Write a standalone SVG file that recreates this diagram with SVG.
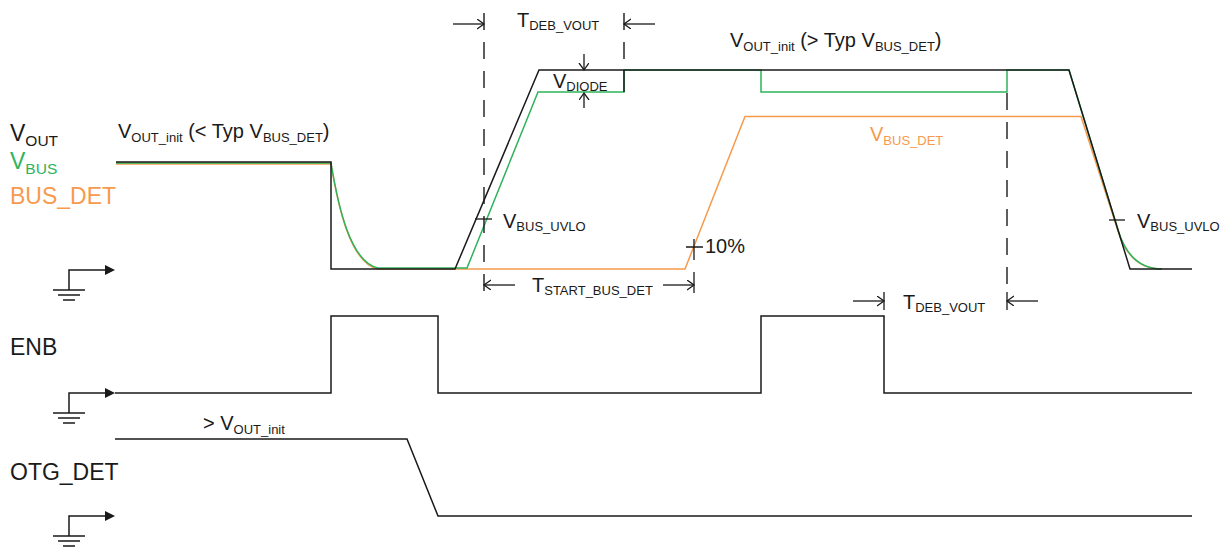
<svg xmlns="http://www.w3.org/2000/svg" width="1230" height="548" viewBox="0 0 1230 548">
<style>
text{font-family:"Liberation Sans",Arial,sans-serif;fill:#1a1a1a}
.lbl{font-size:23px}
.ls{font-size:15.5px}
.a{font-size:20px}
.s{font-size:13px}
.k{fill:none;stroke:#1a1a1a;stroke-width:1.5}
.g{fill:none;stroke:#2eb35c;stroke-width:1.5}
.o{fill:none;stroke:#f79a4c;stroke-width:1.5}
.d{fill:none;stroke:#1a1a1a;stroke-width:1.4;stroke-dasharray:17 12}
.t{fill:none;stroke:#1a1a1a;stroke-width:1.3}
.ar{fill:none;stroke:#1a1a1a;stroke-width:1.3;marker-end:url(#open)}
</style>
<defs>
<marker id="open" markerUnits="userSpaceOnUse" markerWidth="10" markerHeight="12" refX="7" refY="5" orient="auto">
<path d="M0,0 L7,5 L0,10" fill="none" stroke="#1a1a1a" stroke-width="1.3"/>
</marker>
<g id="gnd">
<path d="M0,0 V-20 H36" fill="none" stroke="#1a1a1a" stroke-width="1.5"/>
<path d="M36,-25 L46,-20 L36,-15 Z" fill="#1a1a1a"/>
<path d="M-16,0 H16 M-11,5 H11 M-6,10 H6" fill="none" stroke="#1a1a1a" stroke-width="1.5"/>
</g>
</defs>
<rect width="1230" height="548" fill="#fff"/>

<g id="labels">
<text class="lbl" x="10" y="141">V<tspan class="ls" y="146">OUT</tspan></text>
<text class="lbl" x="10" y="169" style="fill:#2eb35c">V<tspan class="ls" y="174">BUS</tspan></text>
<text class="lbl" x="10" y="204" style="fill:#f79a4c">BUS_DET</text>
<text class="lbl" x="10" y="355">ENB</text>
<text class="lbl" x="10" y="480">OTG_DET</text>
</g>

<g id="grounds">
<use href="#gnd" x="69" y="290"/>
<use href="#gnd" x="69" y="413"/>
<use href="#gnd" x="69" y="536"/>
</g>

<g id="vbus-det-wave">
<path class="o" d="M116,164 H331 C338,206 350,263 378,269 H685 L745,116.5 H1081 L1118,231 C1126,257 1140,269 1162,269"/>
</g>
<g id="vbus-wave">
<path class="g" d="M116,163 H331 C338,205 350,262 378,268 H467 L538,92 H624 V70 H761 V92 H1007 V70 H1069 L1118,230 C1126,256 1140,269 1162,269"/>
</g>
<g id="vout-wave">
<path class="k" d="M116,162 H331 V269 H455 L539,70 H1069 L1130,269 H1192"/>
<path class="k" d="M624,70 V92"/>
</g>

<g id="enb-wave">
<path class="k" d="M115,393 H331 V316 H438 V393 H761 V316 H884 V393 H1192"/>
</g>
<g id="otg-wave">
<path class="k" d="M115,439 H407 L438,516 H1192"/>
</g>

<g id="connectors">
<path class="d" d="M484,13 V297"/>
<path class="d" d="M624,13 V64"/>
<path class="d" d="M1007,93 V284"/>
<line class="ar" x1="453" y1="24" x2="484" y2="24"/>
<line class="ar" x1="655" y1="24" x2="624" y2="24"/>
<line class="ar" x1="584" y1="54" x2="584" y2="70"/>
<line class="ar" x1="584" y1="108" x2="584" y2="93"/>
<line class="ar" x1="515" y1="285" x2="484" y2="285"/>
<line class="ar" x1="663" y1="285" x2="694" y2="285"/>
<path class="t" d="M694,272 V293"/>
<path class="t" d="M686,247 H703 M694,239 V260"/>
<path class="t" d="M475,219 H492"/>
<path class="t" d="M1109,220 H1125"/>
<line class="ar" x1="853" y1="301" x2="884" y2="301"/>
<line class="ar" x1="1038" y1="301" x2="1007" y2="301"/>
<path class="t" d="M884,292 V310 M1007,292 V310"/>
</g>

<g id="annotations">
<text class="a" x="118" y="138">V<tspan class="s" y="142">OUT_init</tspan><tspan y="138"> (&lt; Typ V</tspan><tspan class="s" y="142">BUS_DET</tspan><tspan y="138">)</tspan></text>
<text class="a" x="730" y="47">V<tspan class="s" y="51">OUT_init</tspan><tspan y="47"> (&gt; Typ V</tspan><tspan class="s" y="51">BUS_DET</tspan><tspan y="47">)</tspan></text>
<text class="a" x="517" y="27">T<tspan class="s" y="30">DEB_VOUT</tspan></text>
<text class="a" x="553" y="88">V<tspan class="s" y="91">DIODE</tspan></text>
<text class="a" x="503" y="228">V<tspan class="s" y="231">BUS_UVLO</tspan></text>
<text class="a" x="1137" y="228">V<tspan class="s" y="231">BUS_UVLO</tspan></text>
<text class="a" x="705" y="253">10%</text>
<text class="a" x="532" y="292">T<tspan class="s" y="295">START_BUS_DET</tspan></text>
<text class="a" x="870" y="141" style="fill:#f79a4c">V<tspan class="s" y="145" style="fill:#f79a4c">BUS_DET</tspan></text>
<text class="a" x="903" y="309">T<tspan class="s" y="312">DEB_VOUT</tspan></text>
<text class="a" x="203" y="430">&gt; V<tspan class="s" y="434">OUT_init</tspan></text>
</g>
</svg>
